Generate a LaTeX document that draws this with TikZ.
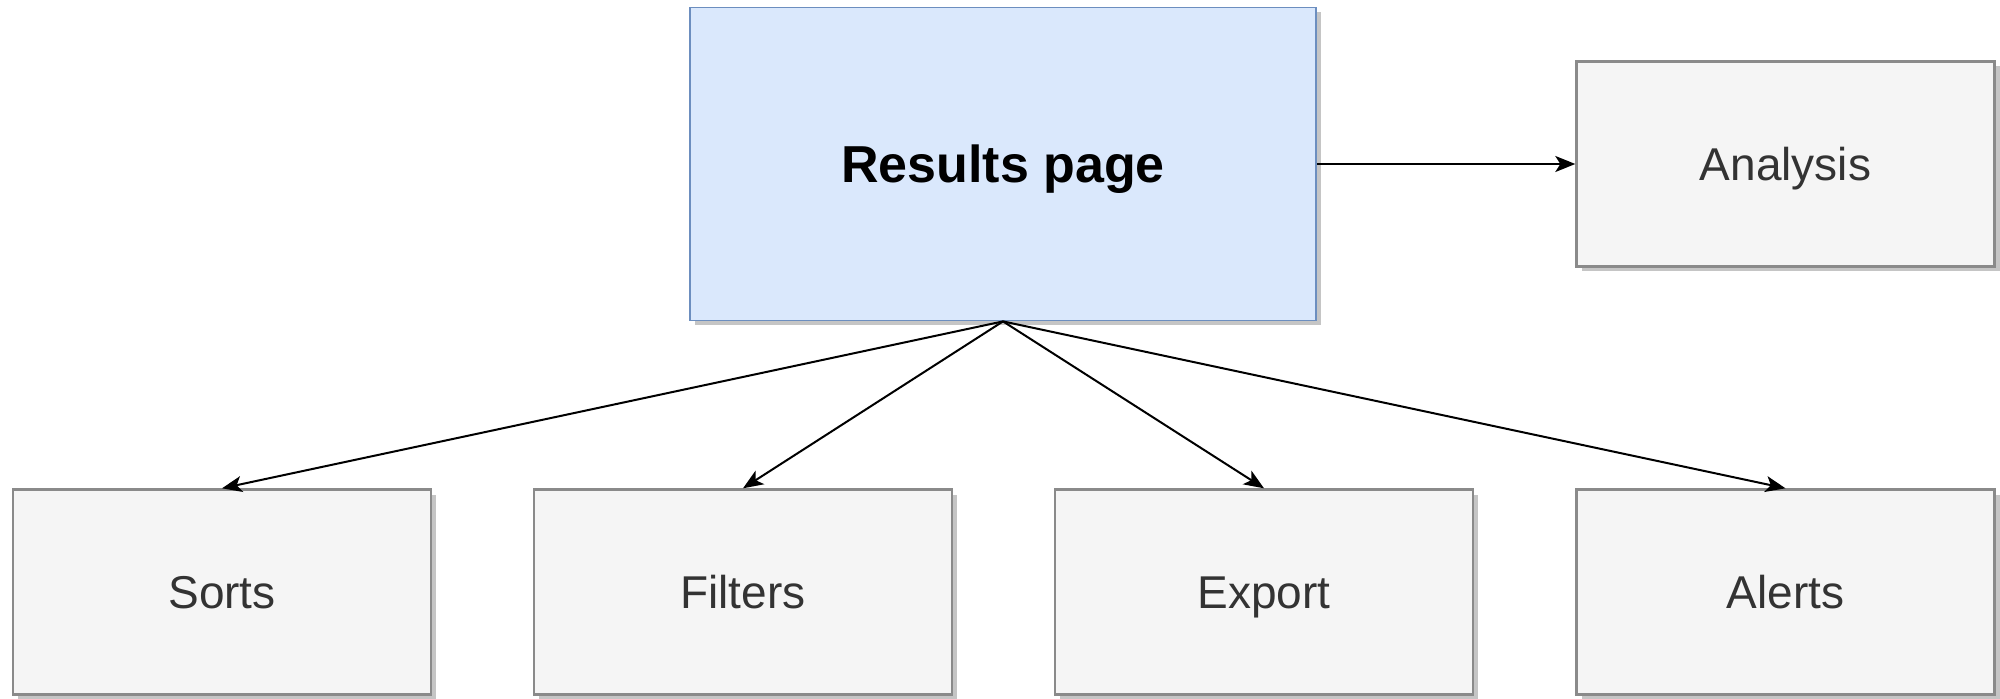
\documentclass[tikz,border=0pt]{standalone}
\usepackage{fontspec}
\setmainfont{Liberation Sans}
\usepackage{tikz}
\usetikzlibrary{arrows.meta, shadows}
\definecolor{resfill}{HTML}{DAE8FC}
\definecolor{resline}{HTML}{6C8EBF}
\definecolor{boxfill}{HTML}{F5F5F5}
\definecolor{boxline}{HTML}{8A8A8A}
\definecolor{boxtext}{HTML}{333333}
\tikzset{
  featbox/.style={draw=boxline, line width=1.2pt, fill=boxfill, text=boxtext,
    minimum width=209pt, minimum height=102.5pt, inner sep=0pt,
    text height=16.5pt, text depth=0pt,
    font=\fontsize{23}{27}\selectfont,
    drop shadow={shadow xshift=2.5pt, shadow yshift=-2.5pt, fill=black!45, opacity=.5}},
  pagebox/.style={featbox, draw=resline, fill=resfill, text=black,
    minimum width=313pt, minimum height=156.5pt, line width=.9pt,
    text height=18.6pt,
    font=\bfseries\fontsize{26}{31}\selectfont},
  link/.style={line width=1pt, -{Stealth[length=10pt, width=8pt, inset=2.5pt]}}
}
\begin{document}
\begin{tikzpicture}[x=0.5pt, y=-0.5pt]
  \useasboundingbox (0,0) rectangle (2000,699);
  \node[pagebox] (results) at (1003,164) {Results page};
  \node[featbox] (analysis) at (1785.5,164) {Analysis};
  % bottom row
  \node[featbox] (sorts) at (222,592) {Sorts};
  \node[featbox] (filters) at (743,592) {Filters};
  \node[featbox] (export) at (1264,592) {Export};
  \node[featbox] (alerts) at (1785.5,592) {Alerts};
  \draw[link] (results.east) -- (analysis.west);
  \foreach \n in {sorts, filters, export, alerts}
    \draw[link] (results.south) -- (\n.north);
\end{tikzpicture}
\end{document}
